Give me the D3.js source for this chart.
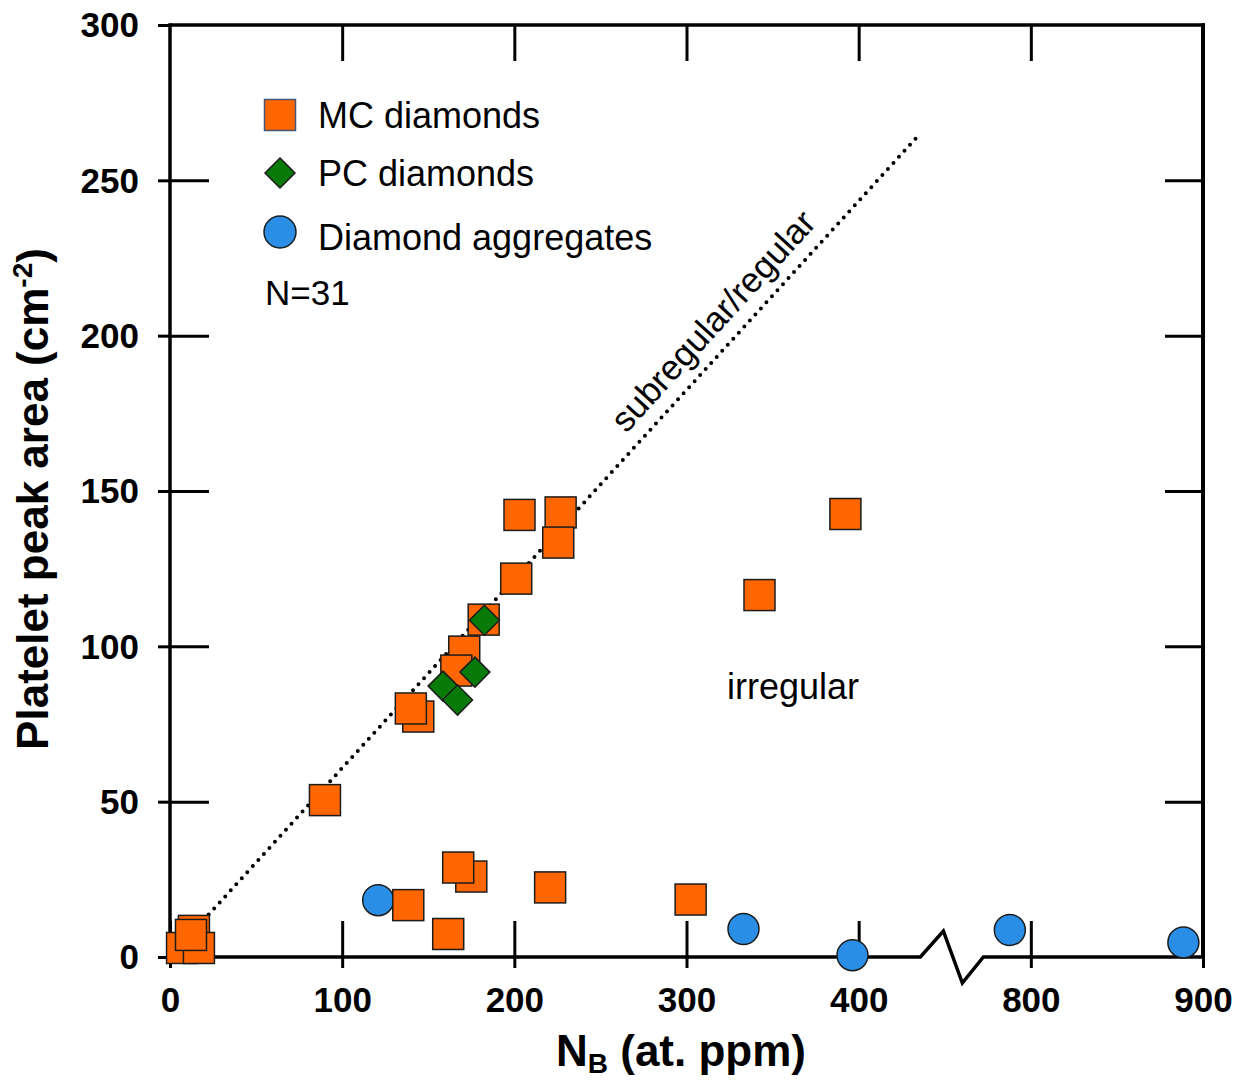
<!DOCTYPE html>
<html>
<head>
<meta charset="utf-8">
<script src="https://cdn.jsdelivr.net/npm/d3@7"></script>
<style>
  body { margin: 0; background: #fff; }
  text { font-family: "Liberation Sans", Arial, Helvetica, sans-serif; fill: #000; }
</style>
</head>
<body>
<svg id="chart" width="1245" height="1080"></svg>
<script>
// MC diamonds: N in B centres (at. ppm) and platelet peak area (cm-2)
const mcNB   = [7, 13.9, 16.8, 12.2, 90, 203, 226.9, 225.5, 201.1, 182.2, 170.9, 166.3, 144.2, 139.9, 392.3, 342.4, 138.4, 175, 167.4, 161.6, 220.8, 302.4];
const mcArea = [2.9, 8.4, 2.9, 7.1, 50.5, 142.3, 143.1, 133.4, 121.8, 108.6, 98.3, 92.2, 77.4, 80, 142.6, 116.5, 16.7, 25.9, 28.8, 7.4, 22.4, 18.5];

// PC diamonds
const pcNB   = [182.6, 177.1, 158.6, 167];
const pcArea = [108.4, 91.7, 87.2, 82.7];

// Diamond aggregates
const agNB   = [120.9, 333.1, 396.4, 787.8, 888.6];
const agArea = [18.3, 9, 0.6, 8.7, 4.7];

// Subregular/regular boundary line
const lineNB   = [0, 434];
const lineArea = [0, 264];

// Axis ticks; the x axis is broken between 455 and 755 at. ppm
const xTicks = [0, 100, 200, 300, 400, 800, 900];
const yTicks = [0, 50, 100, 150, 200, 250, 300];
const xBreak = [455, 755];

const legendLabels = ["MC diamonds", "PC diamonds", "Diamond aggregates"];

const svg = d3.select("#chart");
const pLeft = 170, pRight = 1203, pTop = 25, pBottom = 957;

const unit = (pRight - pLeft) / (900 - (xBreak[1] - xBreak[0]));
const xb = pLeft + xBreak[0] * unit;
const x = d3.scaleLinear()
  .domain([0, xBreak[0], xBreak[1], 900])
  .range([pLeft, xb, xb, pRight]);
const y = d3.scaleLinear().domain([0, 300]).range([pBottom, pTop]);

const colors = { mc: "#ff6600", pc: "#077a07", ag: "#2b8ee6" };
const edge = "#1c1c1c";
const SQ = 31, DI = 15, R = 15.5;

// ---- frame ----
const frame = svg.append("g").attr("fill", "none").attr("stroke", "#000").attr("stroke-width", 3.5);
frame.append("line").attr("x1", pLeft).attr("x2", pLeft).attr("y1", pTop - 1.7).attr("y2", pBottom);
frame.append("line").attr("x1", pLeft).attr("x2", pRight + 2).attr("y1", pTop).attr("y2", pTop);
frame.append("line").attr("x1", pRight).attr("x2", pRight).attr("y1", pTop - 1.7).attr("y2", pBottom).attr("stroke-width", 4);
// broken baseline with zigzag
frame.append("path")
  .attr("stroke-linejoin", "miter")
  .attr("d", d3.line()([
    [pLeft, pBottom], [xb - 33, pBottom], [xb - 10, pBottom - 26],
    [xb + 9, pBottom + 26], [xb + 30, pBottom], [pRight, pBottom]
  ]));

// ---- axes (ticks + labels) ----
function styleAxis(g) {
  g.select(".domain").remove();
  g.selectAll(".tick line").attr("stroke", "#000").attr("stroke-width", 3);
}
// bottom: outward stubs with labels, plus inward ticks
svg.append("g").attr("transform", `translate(0,${pBottom})`)
  .call(d3.axisBottom(x).tickValues(xTicks).tickSize(11).tickFormat(d3.format("d")))
  .call(styleAxis)
  .call(g => g.selectAll(".tick text").attr("font-size", 35).attr("font-weight", "bold")
    .attr("font-family", "Liberation Sans, Arial, sans-serif").attr("dy", "0.35em").attr("y", 43));
svg.append("g").attr("transform", `translate(0,${pBottom})`)
  .call(d3.axisTop(x).tickValues(xTicks).tickSize(36).tickFormat(""))
  .call(styleAxis);
// top: inward ticks
svg.append("g").attr("transform", `translate(0,${pTop})`)
  .call(d3.axisBottom(x).tickValues(xTicks.slice(1, -1)).tickSize(36).tickFormat(""))
  .call(styleAxis);
// left: outward stubs with labels, plus inward ticks
svg.append("g").attr("transform", `translate(${pLeft},0)`)
  .call(d3.axisLeft(y).tickValues(yTicks).tickSize(12).tickPadding(19))
  .call(styleAxis)
  .call(g => g.selectAll(".tick text").attr("font-size", 35).attr("font-weight", "bold")
    .attr("font-family", "Liberation Sans, Arial, sans-serif").attr("dy", "0.34em"));
svg.append("g").attr("transform", `translate(${pLeft},0)`)
  .call(d3.axisRight(y).tickValues(yTicks.slice(1, -1)).tickSize(39).tickFormat(""))
  .call(styleAxis);
// right: inward ticks
svg.append("g").attr("transform", `translate(${pRight},0)`)
  .call(d3.axisLeft(y).tickValues(yTicks.slice(1, -1)).tickSize(38).tickFormat(""))
  .call(styleAxis);

// ---- axis titles ----
const xTitle = svg.append("text")
  .attr("transform", `translate(681,1066)`)
  .attr("text-anchor", "middle").attr("font-size", 44).attr("font-weight", "bold");
xTitle.append("tspan").text("N");
xTitle.append("tspan").attr("font-size", 28).attr("dy", 7).text("B");
xTitle.append("tspan").attr("dy", -7).text(" (at. ppm)");

const yTitle = svg.append("text")
  .attr("transform", `translate(48,499) rotate(-90)`)
  .attr("text-anchor", "middle").attr("font-size", 44).attr("font-weight", "bold");
yTitle.append("tspan").text("Platelet peak area (cm");
yTitle.append("tspan").attr("font-size", 28).attr("dy", -16).text("-2");
yTitle.append("tspan").attr("dy", 16).text(")");

// ---- boundary line ----
const linePts = lineNB.map((v, i) => [x(v), y(lineArea[i])]);
svg.append("path")
  .attr("d", d3.line()(linePts))
  .attr("fill", "none").attr("stroke", "#000").attr("stroke-width", 4)
  .attr("stroke-linecap", "round").attr("stroke-dasharray", "0 8.2");

// label along the line
{
  const [p0, p1] = linePts;
  const ang = Math.atan2(p1[1] - p0[1], p1[0] - p0[0]);
  const along = 327, slope = lineArea[1] / lineNB[1];
  const cx = x(along), cy = y(along * slope);
  const nx = Math.sin(ang), ny = -Math.cos(ang);
  svg.append("text")
    .attr("transform", `translate(${cx + nx * 15},${cy + ny * 15}) rotate(${ang * 180 / Math.PI})`)
    .attr("text-anchor", "middle").attr("font-size", 35)
    .text("subregular/regular");
}

svg.append("text")
  .attr("x", 727).attr("y", 699)
  .attr("font-size", 36).text("irregular");

// ---- markers ----
const diamondPath = d => `M0,${-d}L${d},0L0,${d}L${-d},0Z`;

svg.append("g").selectAll("circle")
  .data(agNB.map((v, i) => [v, agArea[i]]))
  .join("circle")
  .attr("cx", d => x(d[0])).attr("cy", d => y(d[1])).attr("r", R)
  .attr("fill", colors.ag).attr("stroke", edge).attr("stroke-width", 1.5);

svg.append("g").selectAll("rect")
  .data(mcNB.map((v, i) => [v, mcArea[i]]))
  .join("rect")
  .attr("x", d => x(d[0]) - SQ / 2).attr("y", d => y(d[1]) - SQ / 2)
  .attr("width", SQ).attr("height", SQ)
  .attr("fill", colors.mc).attr("stroke", edge).attr("stroke-width", 1.5);

svg.append("g").selectAll("path")
  .data(pcNB.map((v, i) => [v, pcArea[i]]))
  .join("path")
  .attr("transform", d => `translate(${x(d[0])},${y(d[1])})`)
  .attr("d", diamondPath(DI))
  .attr("fill", colors.pc).attr("stroke", edge).attr("stroke-width", 1.5);

// ---- legend ----
const lg = svg.append("g");
const lgY = [115, 173, 232];
const lgBase = [128, 186, 250];
lg.append("rect").attr("x", 280 - SQ / 2).attr("y", lgY[0] - SQ / 2).attr("width", SQ).attr("height", SQ)
  .attr("fill", colors.mc).attr("stroke", "#44557a").attr("stroke-width", 1.5);
lg.append("path").attr("transform", `translate(280,${lgY[1]})`).attr("d", diamondPath(DI))
  .attr("fill", colors.pc).attr("stroke", edge).attr("stroke-width", 1.5);
lg.append("circle").attr("cx", 280).attr("cy", lgY[2]).attr("r", 16)
  .attr("fill", colors.ag).attr("stroke", edge).attr("stroke-width", 1.5);
legendLabels.forEach((t, i) => {
  lg.append("text").attr("x", 318).attr("y", lgBase[i])
    .attr("font-size", 36).text(t);
});
lg.append("text").attr("x", 265).attr("y", 305).attr("font-size", 35).text("N=31");
</script>
</body>
</html>
